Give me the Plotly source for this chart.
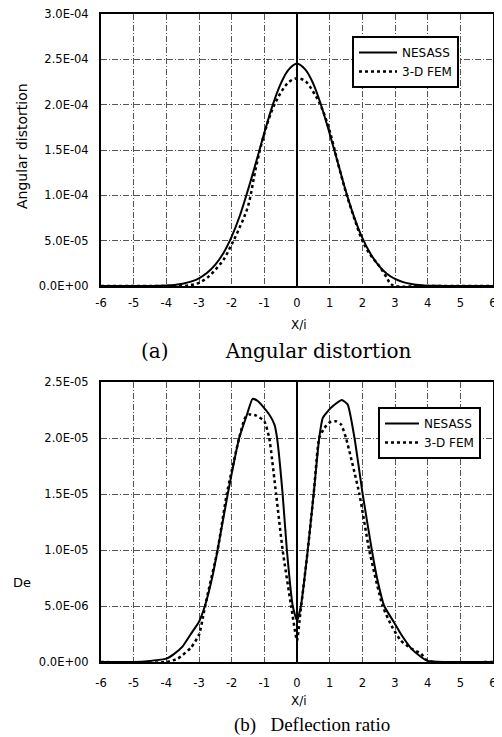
import plotly.graph_objects as go

# ---------------- data ----------------
# (a) Angular distortion
ang_nesass_x = [-6, -5, -4.5, -4, -3.75, -3.5, -3.25, -3, -2.75, -2.5, -2.25, -2, -1.75, -1.5, -1.25, -1,
                -0.75, -0.5, -0.25, 0, 0.25, 0.5, 0.75, 1, 1.25, 1.5, 1.75, 2, 2.25, 2.5, 2.75, 3,
                3.25, 3.5, 3.75, 4, 4.5, 5, 6]
ang_nesass_y = [0, 0, 1e-7, 5e-7, 1.2e-6, 2.5e-6, 4.8e-6, 8.5e-6, 1.45e-5, 2.35e-5, 3.65e-5, 5.45e-5,
                7.75e-5, 1.06e-4, 1.37e-4, 1.69e-4, 1.99e-4, 2.23e-4, 2.39e-4, 2.45e-4, 2.39e-4,
                2.23e-4, 1.98e-4, 1.68e-4, 1.36e-4, 1.04e-4, 7.6e-5, 5.3e-5, 3.55e-5, 2.25e-5,
                1.35e-5, 7.8e-6, 4.3e-6, 2.2e-6, 1.1e-6, 4e-7, 1e-7, 0, 0]

ang_fem_x = [-6, -4, -3.5, -3.25, -3, -2.75, -2.5, -2.25, -2, -1.75, -1.5, -1.25, -1, -0.75, -0.5,
             -0.25, 0, 0.25, 0.5, 0.75, 1, 1.25, 1.5, 1.75, 2, 2.25, 2.5, 2.75, 2.85, 3, 4, 6]
ang_fem_y = [0, 0, 0, 1e-6, 3.5e-6, 9e-6, 1.8e-5, 2.9e-5, 4.6e-5, 6.5e-5, 8.8e-5, 1.32e-4, 1.68e-4,
             1.95e-4, 2.13e-4, 2.25e-4, 2.29e-4, 2.26e-4, 2.14e-4, 1.97e-4, 1.71e-4, 1.36e-4,
             1.03e-4, 7.5e-5, 5.0e-5, 3.4e-5, 2.3e-5, 9e-6, 3e-6, 0, 0, 0]

# (b) Deflection ratio
de_nesass_x = [-6, -5, -4.5, -4, -3.75, -3.5, -3.25, -3, -2.82, -2.6, -2.43, -2.12, -1.77, -1.53,
               -1.36, -1.2, -0.85, -0.69, -0.61, -0.44, -0.31, -0.13, 0, 0.12, 0.33, 0.51, 0.68,
               0.79, 1.04, 1.37, 1.55, 1.76, 2.01, 2.29, 2.45, 2.67, 3.0, 3.18, 3.5, 3.8, 4.0, 4.5, 6]
de_nesass_y = [0, 0, 1e-7, 3e-7, 7.5e-7, 1.4e-6, 2.5e-6, 3.6e-6, 5e-6, 7.5e-6, 1e-5, 1.5e-5, 2e-5,
               2.21e-5, 2.35e-5, 2.33e-5, 2.21e-5, 2.12e-5, 2e-5, 1.5e-5, 1e-5, 5e-6, 3.7e-6, 5e-6,
               1e-5, 1.5e-5, 2e-5, 2.18e-5, 2.27e-5, 2.34e-5, 2.3e-5, 2e-5, 1.5e-5, 1e-5, 7.5e-6,
               5e-6, 3.4e-6, 2.5e-6, 1.2e-6, 4.5e-7, 1e-7, 0, 0]

de_fem_x = [-6, -4, -3.65, -3.24, -2.99, -2.86, -2.7, -2.43, -2.15, -1.77, -1.59, -1.46, -1.25, -1.0,
            -0.85, -0.64, -0.44, -0.18, 0, 0.1, 0.33, 0.51, 0.68, 0.84, 1.0, 1.19, 1.35, 1.5, 1.91,
            2.21, 2.62, 2.9, 3.18, 3.5, 3.8, 3.95, 4.2, 6]
de_fem_y = [0, 0, 3e-7, 1.3e-6, 2.5e-6, 4.3e-6, 6.5e-6, 1e-5, 1.5e-5, 2e-5, 2.18e-5, 2.21e-5, 2.2e-5,
            2.15e-5, 2e-5, 1.5e-5, 1e-5, 5e-6, 1.9e-6, 4.3e-6, 1e-5, 1.5e-5, 2e-5, 2.09e-5, 2.14e-5,
            2.15e-5, 2.12e-5, 2e-5, 1.5e-5, 1e-5, 5e-6, 3.2e-6, 1.9e-6, 1.2e-6, 7.4e-7, 2e-7, 0, 0]

series_names = ["NESASS", "3-D FEM"]

x_ticks = [-6, -5, -4, -3, -2, -1, 0, 1, 2, 3, 4, 5, 6]
x_ticklabels = ["-6", "-5", "-4", "-3", "-2", "-1", "0", "1", "2", "3", "4", "5", "6"]

ang_ticks = [0, 5e-5, 1e-4, 1.5e-4, 2e-4, 2.5e-4, 3e-4]
ang_ticklabels = ["0.0E+00", "5.0E-05", "1.0E-04", "1.5E-04", "2.0E-04", "2.5E-04", "3.0E-04"]

de_ticks = [0, 5e-6, 1e-5, 1.5e-5, 2e-5, 2.5e-5]
de_ticklabels = ["0.0E+00", "5.0E-06", "1.0E-05", "1.5E-05", "2.0E-05", "2.5E-05"]

# ---------------- figure ----------------
# page is 502x737; the figure div sits at the page's default 8px body margin
OFF = 8
W, H = 502 - OFF, 737 - OFF
SANS = "DejaVu Sans"
SERIF = "DejaVu Serif"
SERIF2 = "Liberation Serif"


def px(x):
    return (x - OFF) / W


def py(y):
    return 1 - (y - OFF) / H


fig = go.Figure()

solid = dict(color="black", width=2)
dotted = dict(color="black", width=2.5, dash="3px,3px")

fig.add_trace(go.Scatter(x=ang_nesass_x, y=ang_nesass_y, mode="lines", name=series_names[0],
                         line=dict(solid, shape="spline"), xaxis="x", yaxis="y", legend="legend"))
fig.add_trace(go.Scatter(x=ang_fem_x, y=ang_fem_y, mode="lines", name=series_names[1],
                         line=dict(dotted, shape="spline"), xaxis="x", yaxis="y", legend="legend"))
fig.add_trace(go.Scatter(x=de_nesass_x, y=de_nesass_y, mode="lines", name=series_names[0],
                         line=dict(solid, shape="spline", smoothing=0.5), xaxis="x2", yaxis="y2",
                         legend="legend2"))
fig.add_trace(go.Scatter(x=de_fem_x, y=de_fem_y, mode="lines", name=series_names[1],
                         line=dict(dotted, shape="spline", smoothing=0.5), xaxis="x2", yaxis="y2",
                         legend="legend2"))

xdom = [px(101), px(493)]
top_dom = [py(286), py(14)]
bot_dom = [py(662), py(382)]

grid = dict(showgrid=True, gridcolor="#555555", gridwidth=0.8, griddash="6px,2px,1px,2px",
            showline=True, linecolor="black", linewidth=2, mirror=True, ticks="",
            automargin=False, ticklabeloverflow="allow",
            tickfont=dict(family=SANS, size=11.5, color="black"))

fig.update_layout(
    width=W, height=H,
    template="none",
    margin=dict(l=0, r=0, t=0, b=0, autoexpand=False),
    paper_bgcolor="white", plot_bgcolor="white",
    showlegend=True,
    xaxis=dict(domain=xdom, anchor="y", range=[-6, 6], tickvals=x_ticks, ticktext=x_ticklabels,
               zeroline=True, zerolinecolor="black", zerolinewidth=2, ticklabelstandoff=5, **grid),
    yaxis=dict(domain=top_dom, anchor="x", range=[0, 3e-4], tickvals=ang_ticks,
               ticktext=ang_ticklabels, zeroline=False, ticklabelstandoff=8, **grid),
    xaxis2=dict(domain=xdom, anchor="y2", range=[-6, 6], tickvals=x_ticks, ticktext=x_ticklabels,
                zeroline=True, zerolinecolor="black", zerolinewidth=2, ticklabelstandoff=9, **grid),
    yaxis2=dict(domain=bot_dom, anchor="x2", range=[0, 2.5e-5], tickvals=de_ticks,
                ticktext=de_ticklabels, zeroline=False, ticklabelstandoff=8, **grid),
    legend=dict(x=px(352), y=py(36), xanchor="left", yanchor="top", bgcolor="white",
                bordercolor="black", borderwidth=2, font=dict(family=SANS, size=12, color="black"),
                itemwidth=38, tracegroupgap=0),
    legend2=dict(x=px(378), y=py(407), xanchor="left", yanchor="top", bgcolor="white",
                 bordercolor="black", borderwidth=2, font=dict(family=SANS, size=12, color="black"),
                 itemwidth=34, tracegroupgap=0),
)


def ann(text, x, y, size, family, angle=0):
    fig.add_annotation(text=text, x=px(x), y=py(y), xref="paper", yref="paper",
                       xanchor="center", yanchor="middle", showarrow=False, textangle=angle,
                       font=dict(family=family, size=size, color="black"))


ann("Angular distortion", 22, 146, 14, SANS, -90)
ann("De", 22, 582, 13, SANS)
ann("X/i", 299, 325, 12, SANS)
ann("X/i", 299, 701, 12, SANS)
ann("(a)" + "\u00a0" * 9 + "Angular distortion", 276, 351, 20, SERIF)
ann("(b)\u00a0\u00a0\u00a0Deflection ratio", 312, 725, 19, SERIF2)

fig.write_html("out.html")
